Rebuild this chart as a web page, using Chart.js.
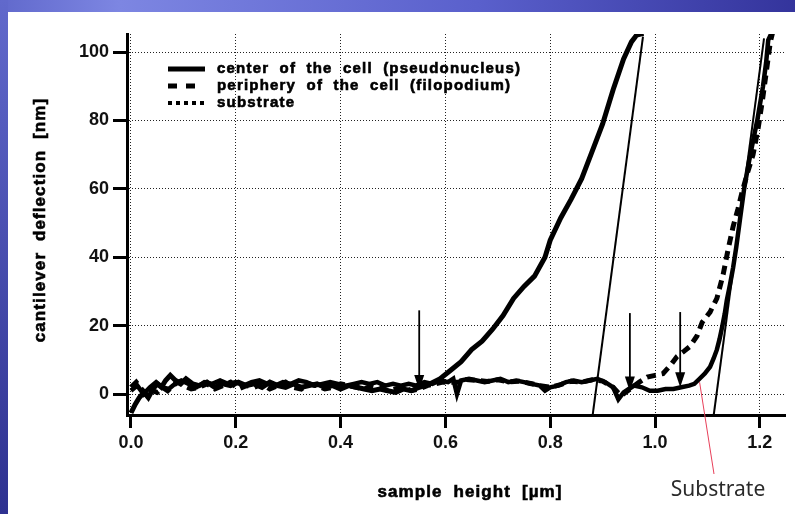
<!DOCTYPE html>
<html>
<head>
<meta charset="utf-8">
<script src="https://cdn.jsdelivr.net/npm/chart.js@4.4.0/dist/chart.umd.min.js"></script>
<style>
  html, body { margin: 0; padding: 0; background: #fff; }
  #wrap { width: 795px; height: 514px; }
</style>
</head>
<body>
<div id="wrap"><canvas id="myChart" width="795" height="514"></canvas></div>
<script>
// tick values
const xTicks = [0, 0.2, 0.4, 0.6, 0.8, 1.0, 1.2];
const yTicks = [0, 20, 40, 60, 80, 100];

// center of the cell (pseudonucleus)
const centerX = [0, 0.008, 0.016, 0.025, 0.033, 0.042, 0.05, 0.058, 0.066, 0.075,
  0.085, 0.095, 0.105, 0.118, 0.13, 0.145, 0.16, 0.175, 0.19, 0.205,
  0.22, 0.235, 0.25, 0.265, 0.28, 0.295, 0.31, 0.325, 0.34, 0.355,
  0.37, 0.385, 0.40, 0.415, 0.43, 0.445, 0.46, 0.475, 0.49, 0.505,
  0.52, 0.535, 0.55, 0.57, 0.59, 0.61, 0.63, 0.65, 0.67, 0.69,
  0.71, 0.73, 0.75, 0.77, 0.79, 0.80, 0.82, 0.84, 0.86, 0.88,
  0.90, 0.92, 0.94, 0.955, 0.965, 0.978];
const centerY = [-5.5, -3, -1, 0.5, -1, 1.5, 3, 2, 4, 5.5,
  4, 3, 4.5, 3, 2.5, 3.5, 2, 3, 2.5, 3.5,
  2.5, 3, 2, 3.5, 2.5, 2, 3, 2, 2.5, 3,
  2, 2.5, 1.5, 2.5, 2, 1.5, 1, 1.5, 1, 0.5,
  1.5, 1, 2, 3, 4.5, 7, 9.5, 13, 15.5, 19,
  23, 28, 31.5, 34.5, 40, 45, 51.5, 57, 63, 71,
  79, 89, 98, 103, 105, 105.5];

// periphery of the cell (filopodium)
const peripheryX = [0, 0.01, 0.02, 0.03, 0.04, 0.05, 0.06, 0.07, 0.08, 0.09, 0.10,
  0.115, 0.13, 0.145, 0.16, 0.175, 0.19, 0.205, 0.22, 0.235,
  0.25, 0.265, 0.28, 0.295, 0.31, 0.325, 0.34, 0.355, 0.37,
  0.385, 0.40, 0.415, 0.43, 0.445, 0.46, 0.475, 0.49, 0.505,
  0.52, 0.535, 0.55, 0.565, 0.58, 0.595, 0.61, 0.625, 0.64,
  0.66, 0.68, 0.70, 0.72, 0.74, 0.76, 0.78, 0.80, 0.82, 0.84, 0.86, 0.88, 0.90, 0.92, 0.935,
  0.955, 0.97, 0.985, 1.0, 1.015, 1.03, 1.042, 1.055, 1.067, 1.08,
  1.09, 1.105, 1.118, 1.13, 1.139, 1.149, 1.158, 1.166, 1.177, 1.187,
  1.197, 1.205, 1.213, 1.22, 1.224];
const peripheryY = [2, 3.5, 1.5, -0.5, 1, 0.5, 2, 1, 2.5, 3.5, 2.5,
  1.5, 2, 3, 1.5, 2.5, 3.5, 1.5, 2.5, 2,
  3, 1.5, 2.5, 3.5, 2, 1.5, 3, 2.5, 1.5,
  2, 3, 2.5, 2, 1.5, 2.5, 2, 1, 1.5,
  2, 1, 1.5, 2.5, 3, 3.5, 3.5, 3.5, 4.3,
  4, 3.7, 4.2, 3.6, 3.8, 3.2, 2.5, 2, 2.8, 3.8, 3.5, 4.2, 3.8, 2, -0.5,
  1.8, 3.5, 5, 5.5, 6, 8.5, 11, 12.5, 14, 17,
  21, 24, 28, 35, 42, 49, 54, 59, 65, 70,
  78, 86, 95, 103, 105.5];

// substrate
const substrateX = [0, 0.012, 0.024, 0.036, 0.048, 0.06, 0.072, 0.084, 0.096, 0.11,
  0.125, 0.14, 0.155, 0.17, 0.185, 0.2, 0.215, 0.23, 0.245, 0.26,
  0.275, 0.29, 0.305, 0.32, 0.335, 0.35, 0.365, 0.38, 0.395, 0.41,
  0.425, 0.44, 0.455, 0.47, 0.485, 0.5, 0.515, 0.53, 0.545, 0.56,
  0.575, 0.59, 0.605, 0.615, 0.622, 0.63, 0.645, 0.66, 0.675, 0.69,
  0.705, 0.72, 0.735, 0.75, 0.765, 0.78, 0.79, 0.80, 0.815, 0.83,
  0.845, 0.86, 0.875, 0.89, 0.905, 0.92, 0.93, 0.94, 0.95, 0.96,
  0.975, 0.99, 1.005, 1.02, 1.035, 1.05, 1.065, 1.075, 1.085, 1.095,
  1.105, 1.112, 1.118, 1.123, 1.128, 1.133, 1.137, 1.143, 1.149, 1.155,
  1.162, 1.17, 1.178, 1.187, 1.195, 1.206, 1.212, 1.216, 1.222];
const substrateY = [1, 2.5, 0, 2, 3.5, 2, 1.5, 3, 4, 3,
  2, 3.5, 3, 4, 3, 3.5, 2.5, 3.5, 4, 3,
  2.5, 3.5, 3, 4, 3.5, 2.5, 3, 3.5, 3, 2.5,
  3, 3.5, 3, 3.5, 2.5, 3, 2.5, 3, 2.5, 3.5,
  3, 4, 3.5, 4.5, 0, 4, 4.5, 4, 3.5, 4,
  4.5, 3.5, 4, 3.5, 3, 2.5, 1, 2, 2.5, 3.5,
  4, 3.5, 4, 4.5, 3.5, 2, -1.5, 0.5, 1.5, 2.5,
  2, 1, 1, 1.5, 1.5, 2, 2.5, 3, 4.5, 6,
  8, 10.5, 13, 16, 19.6, 23.5, 27.5, 32, 37, 43,
  51, 60, 67, 74, 80, 90, 97, 103.5, 105.5];

// thin straight lines (hard contact slopes)
const fitCenterX = [0.881, 0.977];
const fitCenterY = [-6.1, 104.5];
const fitSubstrateX = [1.112, 1.208];
const fitSubstrateY = [-6.1, 104];

// contact point arrows
const arrowX = [0.55, 0.952, 1.048];
const arrowTop = [24.5, 23.7, 24];
const arrowTip = [1.2, 0.8, 2];

const legendLabels = ['center of the cell (pseudonucleus)', 'periphery of the cell (filopodium)', 'substrate'];

const toPoints = (xs, ys) => xs.map((x, i) => ({ x, y: ys[i] }));

const FONT = "'Liberation Sans', Arial, Helvetica, sans-serif";
Chart.defaults.font.family = FONT;
Chart.defaults.color = '#111';

// heavy "scanned" looking text
function heavyText(ctx, text, x, y) {
  ctx.fillText(text, x, y);
  ctx.strokeText(text, x, y);
}

const decorPlugin = {
  id: 'decor',
  beforeDraw(chart) {
    const { ctx, width, height } = chart;
    ctx.save();
    ctx.fillStyle = '#fff';
    ctx.fillRect(0, 0, width, height);
    // slide frame: blue bands top and left
    const top = ctx.createLinearGradient(0, 0, width, 0);
    top.addColorStop(0, '#6169cc');
    top.addColorStop(0.15, '#7d86e2');
    top.addColorStop(0.6, '#5a60cc');
    top.addColorStop(1, '#34349c');
    ctx.fillStyle = top;
    ctx.fillRect(0, 0, width, 12);
    const left = ctx.createLinearGradient(0, 0, 0, height);
    left.addColorStop(0, '#6169cc');
    left.addColorStop(1, '#2e3190');
    ctx.fillStyle = left;
    ctx.fillRect(0, 0, 8, height);
    ctx.restore();
  },
  afterDraw(chart) {
    const { ctx, scales: { x, y } } = chart;
    ctx.save();

    // arrows
    ctx.strokeStyle = '#000';
    ctx.fillStyle = '#000';
    ctx.lineWidth = 1.8;
    arrowX.forEach((v, i) => {
      const px = x.getPixelForValue(v);
      const y0 = y.getPixelForValue(arrowTop[i]);
      const y1 = y.getPixelForValue(arrowTip[i]);
      ctx.beginPath();
      ctx.moveTo(px, y0);
      ctx.lineTo(px, y1 - 10);
      ctx.stroke();
      ctx.beginPath();
      ctx.moveTo(px - 5, y1 - 15);
      ctx.lineTo(px + 5, y1 - 15);
      ctx.lineTo(px, y1);
      ctx.closePath();
      ctx.fill();
    });

    // legend
    const rows = [69, 86, 103];
    const dashes = [[], [9, 9], [4, 4]];
    const widths = [5, 5, 4];
    rows.forEach((ry, i) => {
      ctx.beginPath();
      ctx.setLineDash(dashes[i]);
      ctx.lineWidth = widths[i];
      ctx.moveTo(168, ry);
      ctx.lineTo(i === 1 ? 195 : 205, ry);
      ctx.stroke();
    });
    ctx.setLineDash([]);
    ctx.lineWidth = 0.6;
    ctx.font = 'bold 15px ' + FONT;
    ctx.letterSpacing = '1.2px';
    ctx.wordSpacing = '5px';
    ctx.textBaseline = 'middle';
    ctx.textAlign = 'left';
    legendLabels.forEach((t, i) => heavyText(ctx, t, 217, rows[i]));

    // axis titles
    ctx.font = 'bold 17px ' + FONT;
    ctx.letterSpacing = '1.1px';
    ctx.wordSpacing = '5px';
    ctx.textAlign = 'center';
    heavyText(ctx, 'sample height [\u00b5m]', 470, 492);
    ctx.save();
    ctx.translate(40, 220);
    ctx.rotate(-Math.PI / 2);
    heavyText(ctx, 'cantilever deflection [nm]', 0, 0);
    ctx.restore();

    // "Substrate" call-out
    ctx.letterSpacing = '0px';
    ctx.wordSpacing = '0px';
    ctx.strokeStyle = '#e8405a';
    ctx.lineWidth = 1;
    ctx.beginPath();
    ctx.moveTo(x.getPixelForValue(1.085), y.getPixelForValue(3.5));
    ctx.lineTo(714, 474);
    ctx.stroke();
    ctx.fillStyle = '#2a2a2a';
    ctx.font = "21px 'Noto Sans', 'Open Sans', sans-serif";
    ctx.fillText('Substrate', 718, 490);
    ctx.restore();
  }
};

const thick = { showLine: true, pointRadius: 0, tension: 0, borderColor: '#000', fill: false };

const chart = new Chart(document.getElementById('myChart'), {
  type: 'scatter',
  data: {
    datasets: [
      { ...thick, label: legendLabels[2], data: toPoints(substrateX, substrateY), borderWidth: 4.5 },
      { ...thick, label: legendLabels[1], data: toPoints(peripheryX, peripheryY), borderWidth: 5, borderDash: [9, 6] },
      { ...thick, label: legendLabels[0], data: toPoints(centerX, centerY), borderWidth: 5 },
      { ...thick, label: 'fit center', data: toPoints(fitCenterX, fitCenterY), borderWidth: 2 },
      { ...thick, label: 'fit substrate', data: toPoints(fitSubstrateX, fitSubstrateY), borderWidth: 2 },
    ],
  },
  options: {
    responsive: false,
    animation: false,
    devicePixelRatio: 1,
    layout: { padding: { top: 34, right: 10, left: 0, bottom: 0 } },
    plugins: { legend: { display: false }, tooltip: { enabled: false } },
    scales: {
      x: {
        type: 'linear',
        min: -0.0076,
        max: 1.248,
        afterBuildTicks: (s) => { s.ticks = xTicks.map((v) => ({ value: v })); },
        afterFit: (s) => { s.height = 99; },
        ticks: { callback: (v) => v.toFixed(1), font: { size: 18, weight: 'bold' }, padding: 4, maxRotation: 0, autoSkip: false },
        grid: { color: '#222', lineWidth: 1, tickLength: 13, tickWidth: 3, tickColor: '#000' },
        border: { display: true, width: 3, color: '#000', dash: [1, 2] },
      },
      y: {
        type: 'linear',
        min: -6.1,
        max: 105.3,
        afterBuildTicks: (s) => { s.ticks = yTicks.map((v) => ({ value: v })); },
        afterFit: (s) => { s.width = 127; },
        ticks: { font: { size: 18, weight: 'bold' }, padding: 4 },
        grid: { color: '#222', lineWidth: 1, tickLength: 14, tickWidth: 3, tickColor: '#000' },
        border: { display: true, width: 3, color: '#000', dash: [1, 2] },
      },
    },
  },
  plugins: [decorPlugin],
});
</script>
</body>
</html>
